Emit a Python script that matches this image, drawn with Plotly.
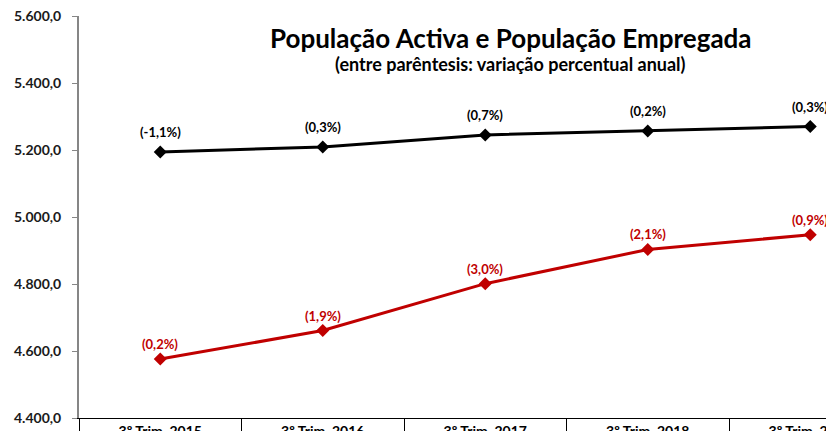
import plotly.graph_objects as go

categories = ["3º Trim. 2015", "3º Trim. 2016", "3º Trim. 2017", "3º Trim. 2018", "3º Trim. 2019"]
pop_activa = [5194.0, 5209.0, 5245.0, 5257.0, 5270.0]
pop_empregada = [4576.0, 4661.0, 4801.0, 4903.0, 4947.0]
var_activa = ["(-1,1%)", "(0,3%)", "(0,7%)", "(0,2%)", "(0,3%)"]
var_empregada = ["(0,2%)", "(1,9%)", "(3,0%)", "(2,1%)", "(0,9%)"]

FONT = "Lato"
BLACK = "#000000"
RED = "#C00000"
x_idx = list(range(len(categories)))

fig = go.Figure()
fig.add_trace(go.Scatter(
    x=x_idx, y=pop_activa, mode="lines+markers",
    line=dict(color=BLACK, width=3),
    marker=dict(symbol="diamond", size=10, color=BLACK),
    hoverinfo="skip", showlegend=False))
fig.add_trace(go.Scatter(
    x=x_idx, y=pop_empregada, mode="lines+markers",
    line=dict(color=RED, width=3),
    marker=dict(symbol="diamond", size=10, color=RED),
    hoverinfo="skip", showlegend=False))
# invisible trace to anchor the divider axis
fig.add_trace(go.Scatter(x=x_idx, y=pop_activa, xaxis="x2", mode="markers",
                         marker=dict(opacity=0), hoverinfo="skip", showlegend=False))

annotations = []
for i, (v, t) in enumerate(zip(pop_activa, var_activa)):
    annotations.append(dict(x=i, y=v, xref="x", yref="y", text="<b>" + t + "</b>", showarrow=False,
                            yshift=20, font=dict(family=FONT, size=13, color=BLACK)))
for i, (v, t) in enumerate(zip(pop_empregada, var_empregada)):
    annotations.append(dict(x=i, y=v, xref="x", yref="y", text="<b>" + t + "</b>", showarrow=False,
                            yshift=15, font=dict(family=FONT, size=13, color=RED)))
annotations.append(dict(x=0.572, y=0.945, xref="paper", yref="paper",
                        text="<b>População Activa e População Empregada</b>",
                        showarrow=False, xanchor="center", yanchor="middle",
                        font=dict(family=FONT, size=26, color=BLACK)))
annotations.append(dict(x=0.572, y=0.881, xref="paper", yref="paper",
                        text="<b>(entre parêntesis: variação percentual anual)</b>",
                        showarrow=False, xanchor="center", yanchor="middle",
                        font=dict(family=FONT, size=18, color=BLACK)))

xrange = [-0.5, 4.146]
fig.update_layout(
    width=826, height=423,
    margin=dict(l=71, r=0, t=8, b=13, autoexpand=False),
    paper_bgcolor="white", plot_bgcolor="white",
    separators=",.",
    font=dict(family=FONT, size=14, color="#1a1a1a"),
    annotations=annotations,
    xaxis=dict(range=xrange, tickmode="array", tickvals=x_idx, ticktext=categories,
               showgrid=False, zeroline=False, showline=True, linecolor=BLACK, linewidth=1,
               ticks="", ticklabeloverflow="allow",
               tickfont=dict(family=FONT, size=14, color=BLACK, weight="bold"),
               automargin=False, fixedrange=True),
    xaxis2=dict(range=xrange, overlaying="x", side="bottom", anchor="y",
                tickmode="array", tickvals=[i + 0.5 for i in x_idx[:-1]] + [-0.5],
                showticklabels=False, ticks="outside", ticklen=20, tickcolor=BLACK,
                tickwidth=1, showgrid=False, zeroline=False, showline=False,
                automargin=False),
    yaxis=dict(range=[4400, 5600], dtick=200, tickformat=",.1f",
               showgrid=False, zeroline=False, showline=True, linecolor="#868686", linewidth=2,
               ticks="outside", ticklen=5, tickcolor="#868686", tickwidth=1,
               ticklabelstandoff=8, ticklabeloverflow="allow",
               tickfont=dict(family=FONT, size=14, color="#1a1a1a", weight="bold"),
               automargin=False, fixedrange=True),
)
fig.write_html("out.html")
